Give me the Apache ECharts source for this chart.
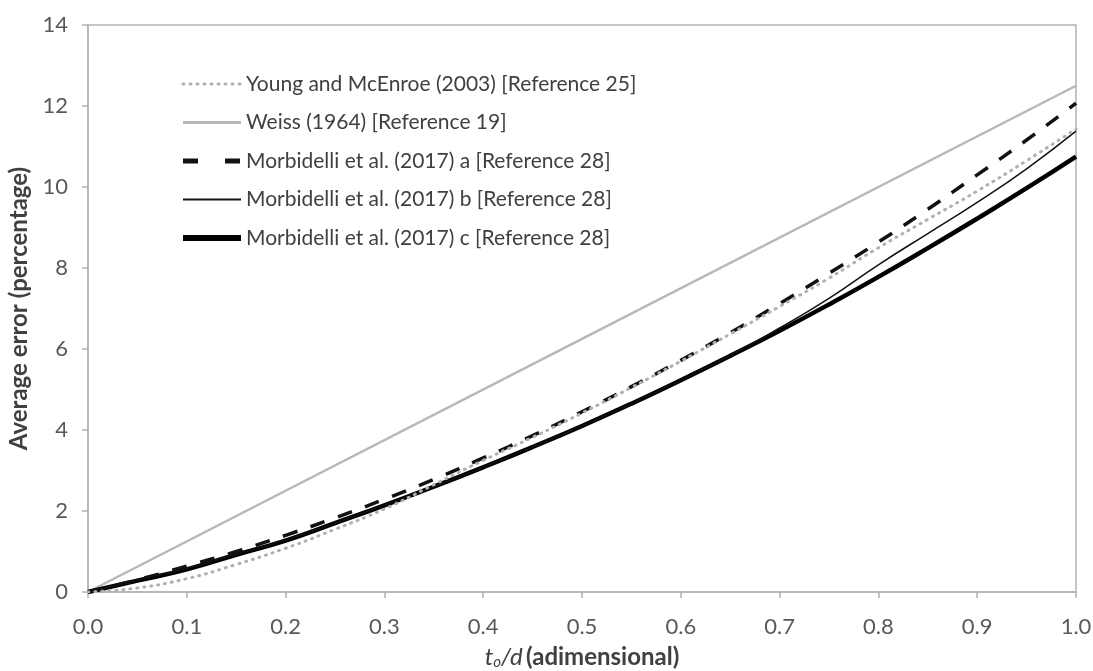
<!DOCTYPE html>
<html>
<head>
<meta charset="utf-8">
<script src="https://cdn.jsdelivr.net/npm/echarts@6/dist/echarts.min.js"></script>
<style>
  html, body { margin: 0; padding: 0; background: #ffffff; }
  #chart { width: 1093px; height: 671px; }
</style>
</head>
<body>
<div id="chart"></div>
<script>
// ---- Data ----
const xValues      = [0, 0.05, 0.1, 0.15, 0.2, 0.25, 0.3, 0.35, 0.4, 0.45, 0.5, 0.55, 0.6, 0.65, 0.7, 0.75, 0.8, 0.85, 0.9, 0.95, 1.0];
const youngValues  = [0, 0.10, 0.33, 0.68, 1.08, 1.55, 2.05, 2.65, 3.25, 3.82, 4.42, 5.05, 5.70, 6.37, 7.05, 7.75, 8.50, 9.20, 9.90, 10.65, 11.43];
const weissX       = [0, 0.5, 1.0];
const weissValues  = [0, 6.25, 12.5];
const morbAValues  = [0, 0.30, 0.64, 1.00, 1.40, 1.83, 2.29, 2.78, 3.31, 3.86, 4.45, 5.07, 5.72, 6.40, 7.12, 7.87, 8.64, 9.45, 10.30, 11.16, 12.07];
const morbBValues  = [0, 0.29, 0.58, 0.93, 1.28, 1.70, 2.14, 2.60, 3.08, 3.58, 4.10, 4.65, 5.23, 5.84, 6.52, 7.25, 8.08, 8.85, 9.62, 10.45, 11.38];
const morbCValues  = [0, 0.28, 0.56, 0.92, 1.27, 1.70, 2.14, 2.60, 3.08, 3.58, 4.10, 4.65, 5.23, 5.83, 6.45, 7.10, 7.78, 8.49, 9.22, 9.97, 10.75];
const xTicks = [0, 0.1, 0.2, 0.3, 0.4, 0.5, 0.6, 0.7, 0.8, 0.9, 1.0];
const yTicks = [0, 2, 4, 6, 8, 10, 12, 14];
const seriesNames = [
  'Young and McEnroe (2003) [Reference 25]',
  'Weiss (1964) [Reference 19]',
  'Morbidelli et al. (2017) a [Reference 28]',
  'Morbidelli et al. (2017) b [Reference 28]',
  'Morbidelli et al. (2017) c [Reference 28]'
];

function pairs(xs, ys) { return xs.map((x, i) => [x, ys[i]]); }

const FONT = 'Lato, "Open Sans", sans-serif';
const lineStyles = [
  { color: '#b0b0b0', width: 3, type: [1, 6], cap: 'round' },
  { color: '#b8b8b8', width: 2.5 },
  { color: '#111111', width: 3.5, type: [15, 14] },
  { color: '#111111', width: 1.5 },
  { color: '#000000', width: 4.5 }
];
const legendWidths = [3, 3, 5, 2, 6];
const legendDash = [[1, 6], null, [15, 27], null, null];

const chart = echarts.init(document.getElementById('chart'), null, { renderer: 'canvas' });

chart.setOption({
  backgroundColor: '#ffffff',
  animation: false,
  grid: {
    left: 88, right: 17, top: 25, bottom: 79,
    outerBoundsMode: 'none', containLabel: false,
    show: true, borderColor: '#b3b3b3', borderWidth: 1.5, backgroundColor: 'transparent'
  },
  legend: {
    orient: 'vertical',
    left: 175, top: 67,
    itemWidth: 58, itemHeight: 24, itemGap: 14.5,
    itemStyle: { opacity: 0 },
    textStyle: { fontFamily: FONT, fontSize: 21, lineHeight: 24, color: '#404040' },
    data: seriesNames.map((n, i) => {
      const ls = Object.assign({}, lineStyles[i], { width: legendWidths[i] });
      if (legendDash[i]) ls.type = legendDash[i];
      return { name: n, lineStyle: ls };
    })
  },
  xAxis: {
    type: 'value', min: xTicks[0], max: xTicks[xTicks.length - 1], interval: 0.1,
    axisLine: { show: true, lineStyle: { color: '#b3b3b3', width: 1.5 } },
    axisTick: { show: true, length: 6, lineStyle: { color: '#b3b3b3', width: 1.5 } },
    splitLine: { show: false },
    axisLabel: { fontFamily: FONT, fontSize: 22, color: '#595959', margin: 24, formatter: v => v.toFixed(1) },
    name: '{i|t}{sub|o}{i|/d} {b|(adimensional)}',
    nameLocation: 'middle', nameGap: 53,
    nameTextStyle: {
      rich: {
        i: { fontFamily: FONT, fontSize: 24, fontStyle: 'italic', color: '#404040' },
        sub: { fontFamily: FONT, fontSize: 15, fontStyle: 'italic', color: '#404040', verticalAlign: 'bottom', padding: [10, 0, 0, 0] },
        b: { fontFamily: FONT, fontSize: 24, fontWeight: 'bold', color: '#404040' }
      }
    }
  },
  yAxis: {
    type: 'value', min: yTicks[0], max: yTicks[yTicks.length - 1], interval: 2,
    axisLine: { show: true, lineStyle: { color: '#b3b3b3', width: 1.5 } },
    axisTick: { show: true, length: 6, lineStyle: { color: '#b3b3b3', width: 1.5 } },
    splitLine: { show: false },
    axisLabel: { fontFamily: FONT, fontSize: 22, color: '#595959', margin: 20 },
    name: 'Average error (percentage)',
    nameLocation: 'middle', nameGap: 53,
    nameTextStyle: { fontFamily: FONT, fontSize: 24, fontWeight: 'bold', color: '#404040' }
  },
  series: [
    {
      name: seriesNames[0], type: 'line', smooth: true, showSymbol: false, symbol: 'none', z: 6,
      data: pairs(xValues, youngValues),
      lineStyle: lineStyles[0], itemStyle: { color: lineStyles[0].color }
    },
    {
      name: seriesNames[1], type: 'line', smooth: false, showSymbol: false, symbol: 'none', z: 2,
      data: pairs(weissX, weissValues),
      lineStyle: lineStyles[1], itemStyle: { color: lineStyles[1].color }
    },
    {
      name: seriesNames[2], type: 'line', smooth: true, showSymbol: false, symbol: 'none', z: 5,
      data: pairs(xValues, morbAValues),
      lineStyle: lineStyles[2], itemStyle: { color: lineStyles[2].color }
    },
    {
      name: seriesNames[3], type: 'line', smooth: true, showSymbol: false, symbol: 'none', z: 4,
      data: pairs(xValues, morbBValues),
      lineStyle: lineStyles[3], itemStyle: { color: lineStyles[3].color }
    },
    {
      name: seriesNames[4], type: 'line', smooth: true, showSymbol: false, symbol: 'none', z: 3,
      data: pairs(xValues, morbCValues),
      lineStyle: lineStyles[4], itemStyle: { color: lineStyles[4].color }
    }
  ]
});
</script>
</body>
</html>
